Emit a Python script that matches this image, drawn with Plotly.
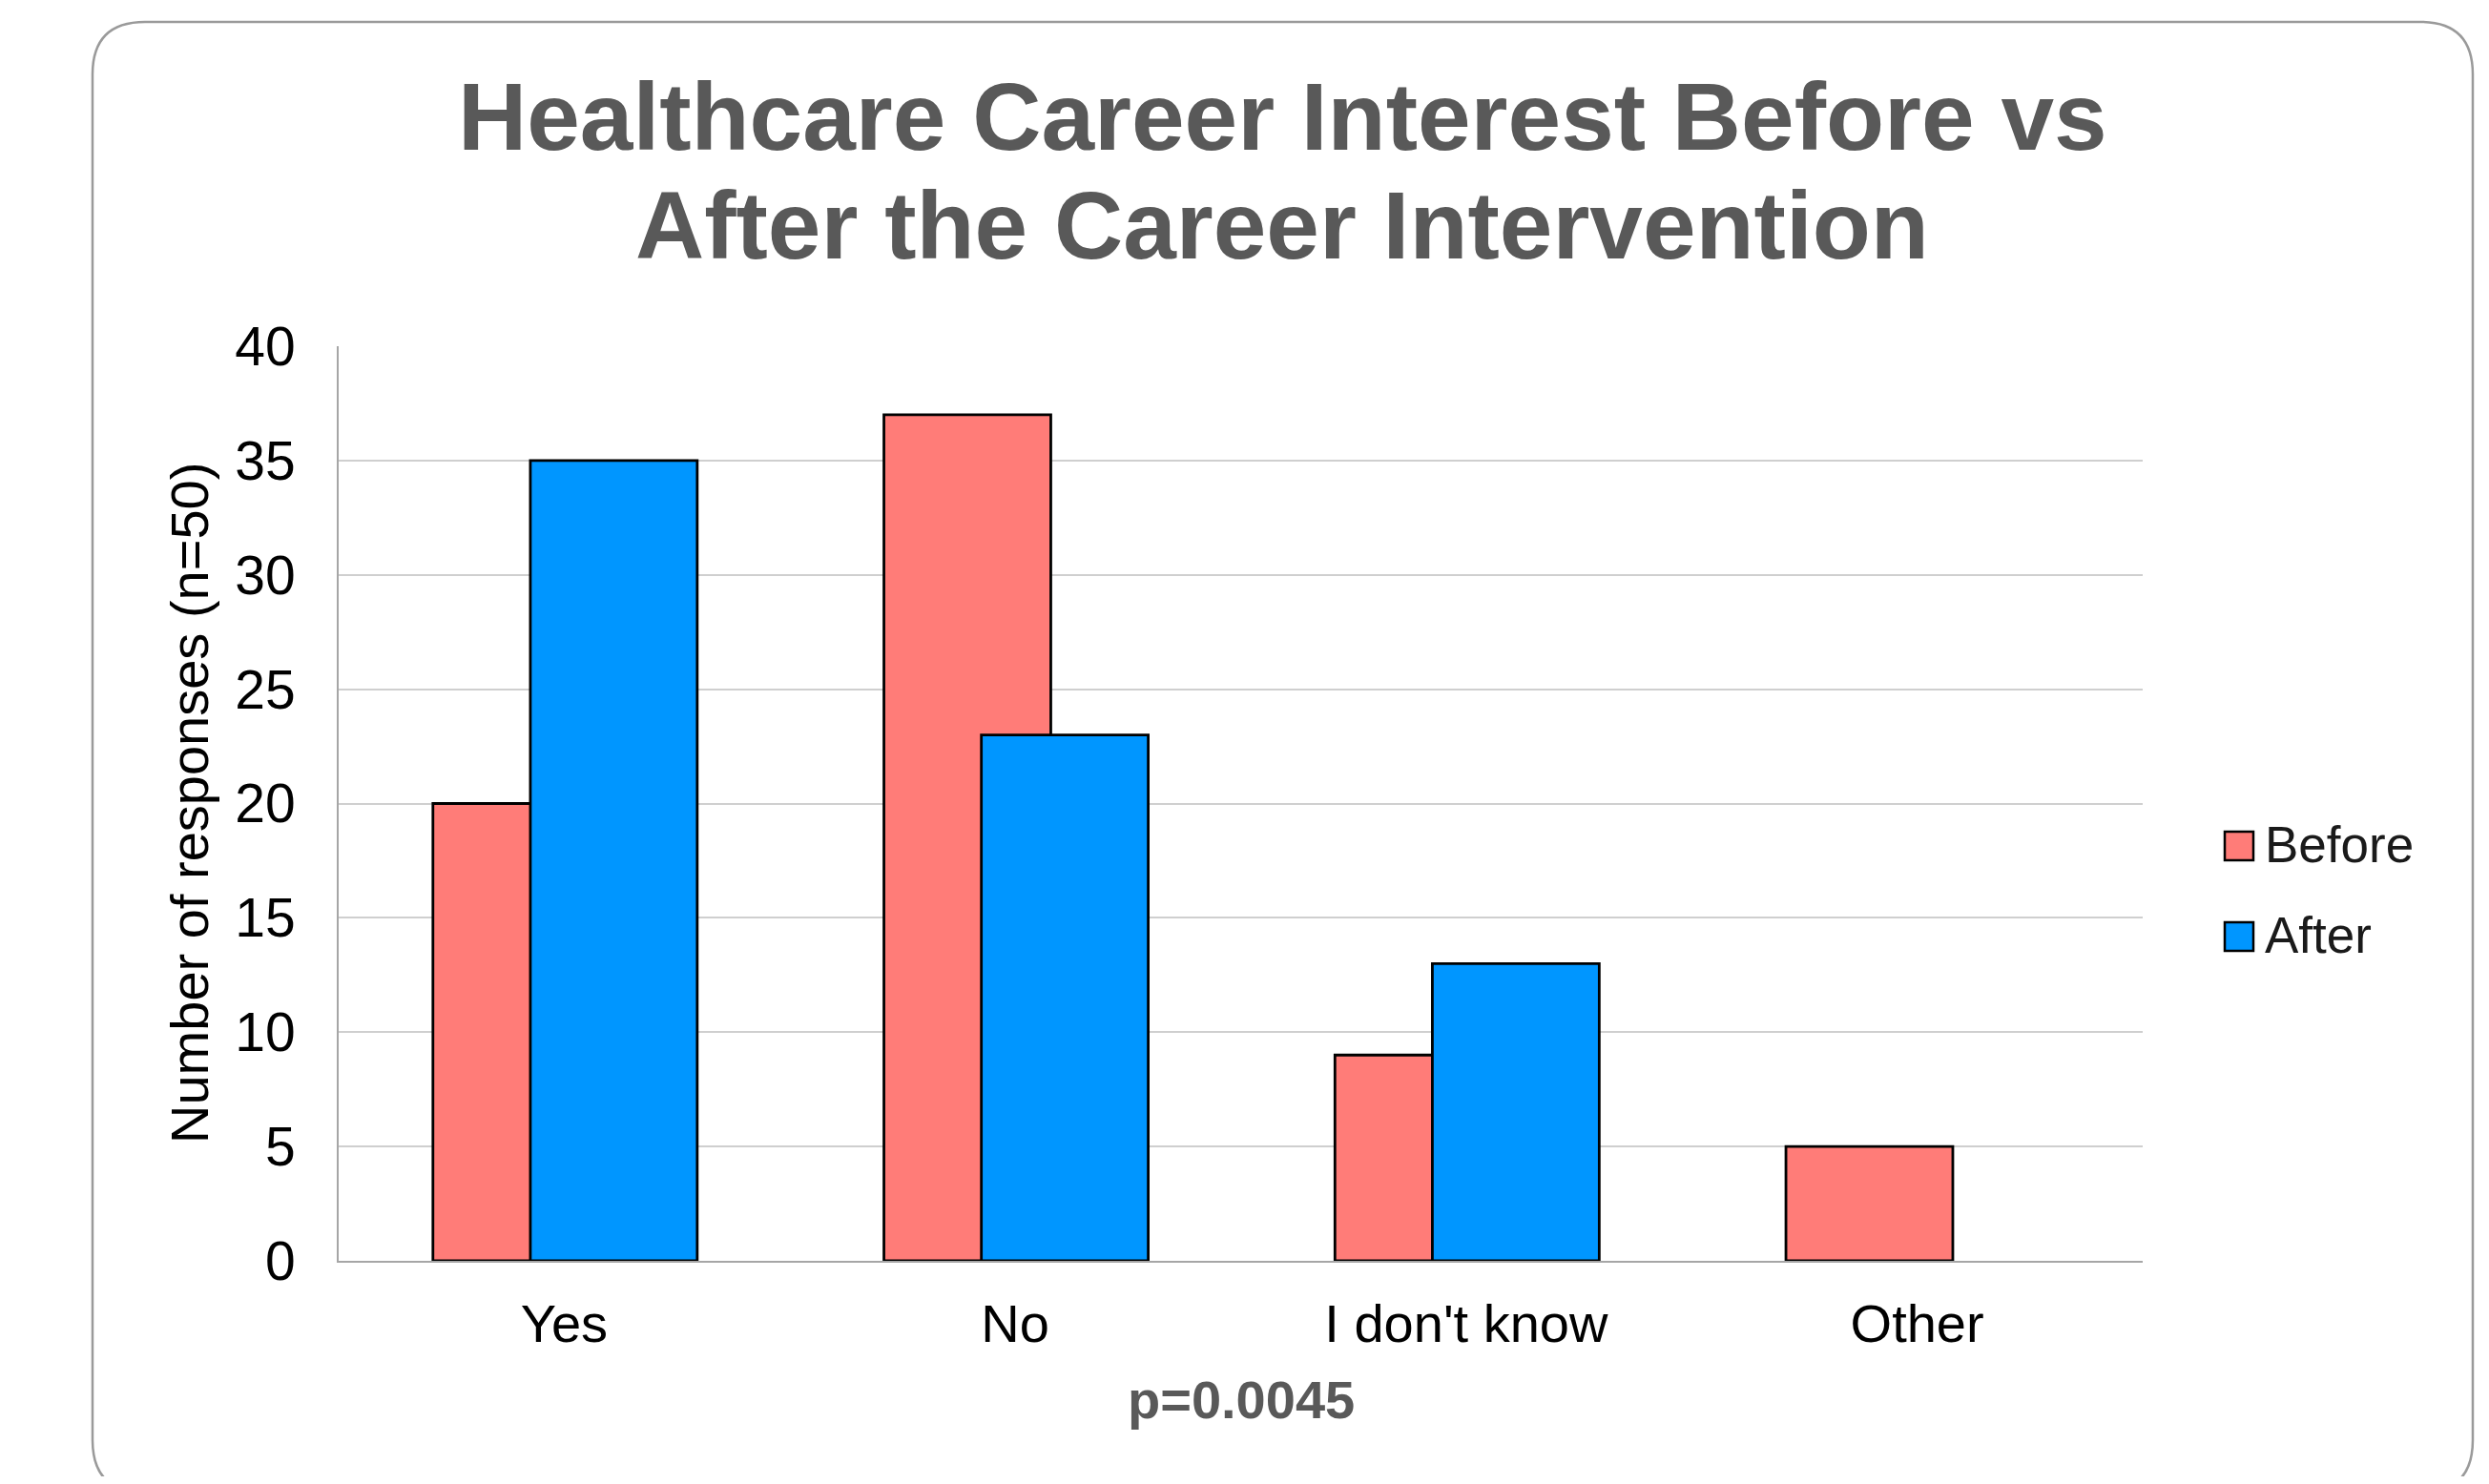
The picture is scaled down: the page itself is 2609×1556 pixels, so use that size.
import plotly.graph_objects as go

# ---------------- data ----------------
categories = ["Yes", "No", "I don't know", "Other"]
series_names = ["Before", "After"]
before_values = [20, 37, 9, 5]
after_values = [35, 23, 13, 0]
y_ticks = [0, 5, 10, 15, 20, 25, 30, 35, 40]
title_lines = ["Healthcare Career Interest Before vs", "After the Career Intervention"]
y_title = "Number of responses (n=50)"
p_text = "p=0.0045"

colors = {"Before": "#FF7C78", "After": "#0096FF"}

# ---------------- layout geometry (page pixels) ----------------
PAGE_W, PAGE_H = 2609, 1556
OFF = 8  # default body margin of the html page
W, H = PAGE_W - 2 * OFF, PAGE_H - 2 * OFF
L, R, T, B = 355, 2246, 363, 1322  # plot area in page pixels


def px(x):
    return (x - L) / (R - L)


def py(y):
    return (B - y) / (B - T)


FONT = "Liberation Sans, Arial, sans-serif"


def line_widths(vals):
    return [0 if v == 0 else 2.8 for v in vals]


fig = go.Figure()
fig.add_trace(go.Bar(
    x=categories, y=before_values, name=series_names[0],
    width=0.37, offset=-0.291,
    marker=dict(color=colors["Before"], line=dict(color="black", width=line_widths(before_values))),
    showlegend=False,
))
fig.add_trace(go.Bar(
    x=categories, y=after_values, name=series_names[1],
    width=0.37, offset=-0.075,
    marker=dict(color=colors["After"], line=dict(color="black", width=line_widths(after_values))),
    showlegend=False,
))

# rounded border
x0, x1, top, bot, r = 97, 2592, 23, 1565, 55
pts = [
    ("M", (x0 + r, top)), ("L", (x1 - r, top)),
    ("Q", (x1, top), (x1, top + r)), ("L", (x1, bot - r)),
    ("Q", (x1, bot), (x1 - r, bot)), ("L", (x0 + r, bot)),
    ("Q", (x0, bot), (x0, bot - r)), ("L", (x0, top + r)),
    ("Q", (x0, top), (x0 + r, top)),
]
path = ""
for item in pts:
    cmd = item[0]
    coords = " ".join(f"{px(p[0]):.5f},{py(p[1]):.5f}" for p in item[1:])
    path += f"{cmd}{coords} "
path += "Z"

shapes = [dict(type="path", path=path, xref="paper", yref="paper",
               line=dict(color="#9A9A9A", width=2.5), fillcolor="rgba(0,0,0,0)",
               layer="below")]

annotations = []
# titles
for txt, yc in zip(title_lines, [122, 236]):
    annotations.append(dict(text=f"<b>{txt}</b>", x=px(1344), y=py(yc), xref="paper", yref="paper",
                            xanchor="center", yanchor="middle", showarrow=False,
                            font=dict(family=FONT, size=100, color="#595959")))
# y axis title
annotations.append(dict(text=y_title, x=px(198), y=py(842), xref="paper", yref="paper",
                        xanchor="center", yanchor="middle", textangle=-90, showarrow=False,
                        font=dict(family=FONT, size=56, color="black")))
# p-value
annotations.append(dict(text=f"<b>{p_text}</b>", x=px(1301), y=py(1467), xref="paper", yref="paper",
                        xanchor="center", yanchor="middle", showarrow=False,
                        font=dict(family=FONT, size=56, color="#595959")))

# custom legend
for name, yc in zip(series_names, [887, 982]):
    shapes.append(dict(type="rect", xref="paper", yref="paper",
                       x0=px(2332), x1=px(2362), y0=py(yc - 15), y1=py(yc + 15),
                       fillcolor=colors[name], line=dict(color="black", width=2.5)))
    annotations.append(dict(text=name, x=px(2372), y=py(yc - 2), xref="paper", yref="paper",
                            xanchor="left", yanchor="middle", showarrow=False,
                            font=dict(family=FONT, size=53, color="#1a1a1a")))

fig.update_layout(
    width=W, height=H,
    margin=dict(l=L - OFF, r=(PAGE_W - OFF) - R, t=T - OFF, b=(PAGE_H - OFF) - B, pad=0),
    paper_bgcolor="white", plot_bgcolor="white",
    barmode="overlay",
    showlegend=False,
    shapes=shapes,
    annotations=annotations,
    font=dict(family=FONT, color="black"),
)
fig.update_xaxes(
    type="category", categoryorder="array", categoryarray=categories,
    range=[-0.5, len(categories) - 0.5],
    showline=True, linecolor="#A6A6A6", linewidth=2,
    showgrid=False, ticks="", ticklabelstandoff=16,
    tickfont=dict(family=FONT, size=56, color="black"),
)
fig.update_yaxes(
    range=[0, 40], tickvals=y_ticks, ticktext=[str(v) for v in y_ticks],
    showline=True, linecolor="#A6A6A6", linewidth=2,
    showgrid=True, gridcolor="#CFCFCF", gridwidth=2, zeroline=False,
    ticks="", ticklabelstandoff=32,
    tickfont=dict(family=FONT, size=57, color="black"),
)

fig.write_html("out.html")
